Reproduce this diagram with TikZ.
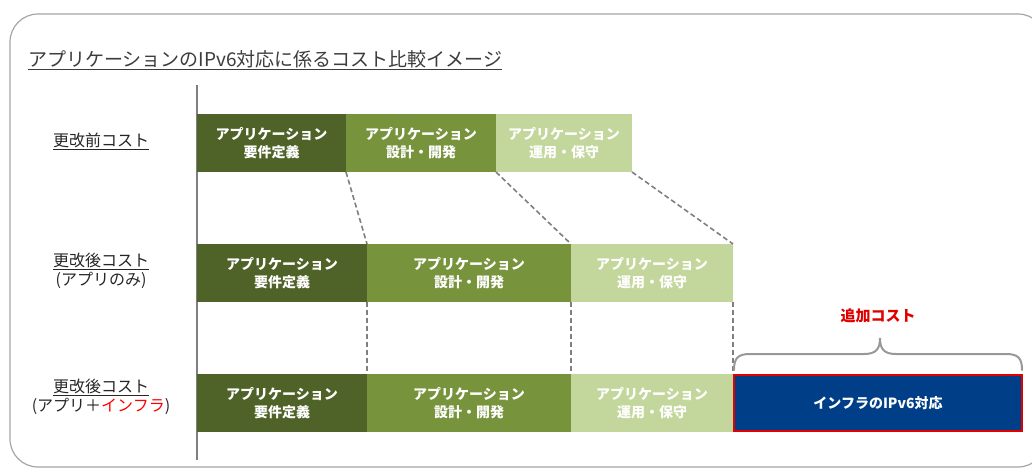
\documentclass[tikz,border=0pt]{standalone}
\usepackage{fontspec}
\setmainfont{Noto Sans CJK JP}
\newfontfamily\jp{Noto Sans CJK JP}
\definecolor{gdark}{HTML}{4F6228}
\definecolor{gmid}{HTML}{77933C}
\definecolor{glight}{HTML}{C3D69B}
\definecolor{nblue}{HTML}{003F87}
\definecolor{rborder}{HTML}{E00000}
\definecolor{lgray}{HTML}{7F7F7F}
\definecolor{tgray}{HTML}{262626}
\tikzset{
  costbox/.style={minimum height=58pt, inner sep=0pt, outer sep=0pt, align=center, text=white,
    font=\jp\bfseries\fontsize{14}{18}\selectfont},
  dkbox/.style={costbox, fill=gdark},
  mdbox/.style={costbox, fill=gmid},
  ltbox/.style={costbox, fill=glight},
  linkline/.style={draw=lgray, dashed, dash pattern=on 5pt off 3pt, line width=1.6pt},
  rowlabel/.style={align=center, text=tgray, font=\jp\fontsize{16}{19}\selectfont, inner sep=0pt}
}
\begin{document}
\begin{tikzpicture}[x=1pt,y=-1pt]
\useasboundingbox (0,0) rectangle (1032,469);
\clip (0,0) rectangle (1032,469);
% outer frame
\draw[draw=lgray!70, line width=1.2pt, rounded corners=28pt] (10,14) rectangle (1046,467);
% title
\node[anchor=west, inner sep=0pt, text=tgray!90, font=\jp\fontsize{19}{21}\selectfont] (title) at (28,60)
  {\underline{アプリケーションのIPv6対応に係るコスト比較イメージ}};
% axis
\coordinate (axtop) at (197,85);
\coordinate (axbot) at (197,460);
\draw[lgray, line width=1.6pt] (axtop) -- (axbot);
% row labels
\node[rowlabel] (l1) at (101,141) {\underline{更改前コスト}};
\node[rowlabel] (l2) at (101,271) {\underline{更改後コスト}\\(アプリのみ)};
\node[rowlabel] (l3) at (101,397) {\underline{更改後コスト}\\(アプリ＋\textcolor{red}{インフラ})};
% row 1
\node[dkbox, minimum width=149pt] (a1) at (271.5,143) {アプリケーション\\要件定義};
\node[mdbox, minimum width=150pt] (a2) at (421,143) {アプリケーション\\設計・開発};
\node[ltbox, minimum width=136pt] (a3) at (564,143) {アプリケーション\\運用・保守};
% row 2
\node[dkbox, minimum width=170pt] (b1) at (282,273) {アプリケーション\\要件定義};
\node[mdbox, minimum width=204pt] (b2) at (469,273) {アプリケーション\\設計・開発};
\node[ltbox, minimum width=162pt] (b3) at (652,273) {アプリケーション\\運用・保守};
% row 3
\node[dkbox, minimum width=170pt] (c1) at (282,403) {アプリケーション\\要件定義};
\node[mdbox, minimum width=204pt] (c2) at (469,403) {アプリケーション\\設計・開発};
\node[ltbox, minimum width=162pt] (c3) at (652,403) {アプリケーション\\運用・保守};
\node[costbox, fill=nblue, draw=rborder, line width=2pt, minimum width=288pt, minimum height=56pt] (c4) at (878,403) {インフラのIPv6対応};
% links
\draw[linkline] (a1.south east) -- (b1.north east);
\draw[linkline] (a2.south east) -- (b2.north east);
\draw[linkline] (a3.south east) -- (b3.north east);
\draw[linkline] (b1.south east) -- (c1.north east);
\draw[linkline] (b2.south east) -- (c2.north east);
\draw[linkline] (b3.south east) -- (c3.north east);
% brace
\coordinate (brL) at (734,370);
\coordinate (brR) at (1022,370);
\coordinate (brT) at (880,338);
\draw[lgray!80, line width=2pt, line cap=round]
  (brL) .. controls (734,358) and (738,354) .. (750,354)
  -- (864,354) .. controls (876,354) and (880,349) .. (brT)
  .. controls (880,349) and (884,354) .. (896,354)
  -- (1006,354) .. controls (1018,354) and (1022,358) .. (brR);
\node[text=rborder, font=\jp\bfseries\fontsize{15}{17}\selectfont, inner sep=0pt] (add) at (878,316) {追加コスト};
\end{tikzpicture}
\end{document}
